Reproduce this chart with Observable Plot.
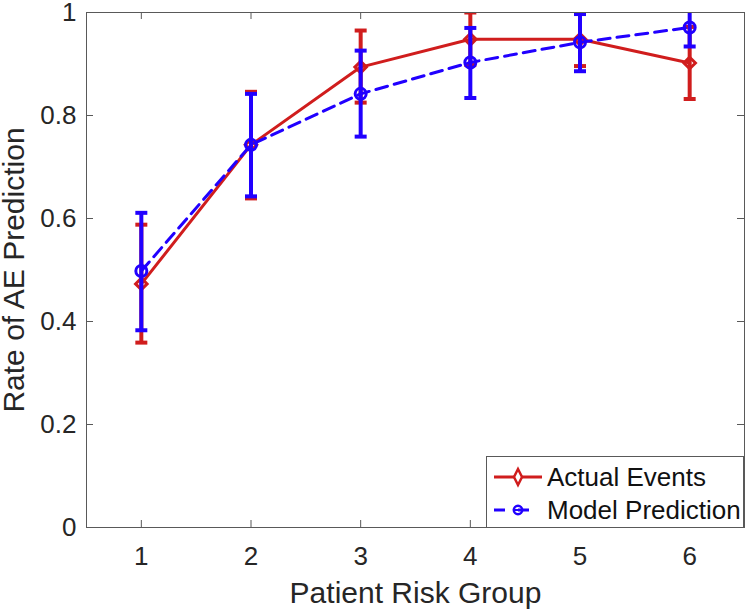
<!DOCTYPE html>
<html>
<head>
<meta charset="utf-8">
<script src="https://cdn.jsdelivr.net/npm/d3@7"></script>
<script src="https://cdn.jsdelivr.net/npm/@observablehq/plot@0.6"></script>
<style>
  body { margin: 0; background: #fff; }
  #wrap { position: relative; width: 747px; height: 613px; font-family: "Liberation Sans", Arial, sans-serif; }
  #legend { position: absolute; left: 486px; top: 456px; }
</style>
</head>
<body>
<div id="wrap"></div>
<script>
// ---- data ----
const groups = [1, 2, 3, 4, 5, 6];
const actual     = [0.473, 0.743, 0.894, 0.948, 0.948, 0.902];
const actualLow  = [0.359, 0.639, 0.825, 0.898, 0.896, 0.832];
const actualHigh = [0.588, 0.846, 0.965, 1.000, 1.000, 0.972];
const model      = [0.498, 0.743, 0.842, 0.903, 0.942, 0.971];
const modelLow   = [0.383, 0.643, 0.759, 0.834, 0.886, 0.934];
const modelHigh  = [0.611, 0.842, 0.926, 0.970, 0.997, 1.010];
const xTicks = [1, 2, 3, 4, 5, 6];
const yTicks = [0, 0.2, 0.4, 0.6, 0.8, 1];
const xLabel = "Patient Risk Group";
const yLabel = "Rate of AE Prediction";
const seriesNames = ["Actual Events", "Model Prediction"];

const RED = "#d01d1d";
const BLUE = "#2100ff";
const AXC = "#262626";
const FRAME = "#595959";

const W = 747, H = 613;
const mTop = 12, mRight = 3, mBottom = 86, mLeft = 86;
const innerW = W - mLeft - mRight, innerH = H - mTop - mBottom;

const act = groups.map((g, i) => ({g, v: actual[i], lo: actualLow[i], hi: actualHigh[i]}));
const mod = groups.map((g, i) => ({g, v: model[i], lo: modelLow[i], hi: modelHigh[i]}));

const cap = { draw(ctx, size) { const w = Math.sqrt(size / Math.PI); ctx.moveTo(-w, 0); ctx.lineTo(w, 0); } };

function series(data, color, symbol, r, dash) {
  return [
    Plot.line(data, {x: "g", y: "v", stroke: color, strokeWidth: 3, strokeDasharray: dash, clip: true}),
    Plot.ruleX(data, {x: "g", y1: "lo", y2: "hi", stroke: color, strokeWidth: 4, clip: true}),
    Plot.dot(data, {x: "g", y: "lo", symbol: cap, r: 6, stroke: color, fill: "none", strokeWidth: 4, clip: true}),
    Plot.dot(data, {x: "g", y: "hi", symbol: cap, r: 6, stroke: color, fill: "none", strokeWidth: 4, clip: true}),
    Plot.dot(data, {x: "g", y: "v", symbol, r, stroke: color, fill: "none", strokeWidth: 3, clip: true})
  ];
}

const chart = Plot.plot({
  width: W, height: H,
  marginTop: mTop, marginRight: mRight, marginBottom: mBottom, marginLeft: mLeft,
  style: {fontFamily: '"Liberation Sans", Arial, sans-serif', color: AXC, background: "#fff"},
  x: {domain: [0.5, 6.5]},
  y: {domain: [0, 1]},
  marks: [
    // tick marks (inward, on all four sides)
    Plot.tickX(xTicks, {x: d => d, insetTop: innerH - 7, stroke: FRAME}),
    Plot.tickX(xTicks, {x: d => d, insetBottom: innerH - 7, stroke: FRAME}),
    Plot.tickY(yTicks, {y: d => d, insetRight: innerW - 7, stroke: FRAME}),
    Plot.tickY(yTicks, {y: d => d, insetLeft: innerW - 7, stroke: FRAME}),
    Plot.axisX(xTicks, {tickSize: 0, tickPadding: 19, fontSize: 26, label: null, tickFormat: d => String(d)}),
    Plot.axisY(yTicks, {tickSize: 0, tickPadding: 10, fontSize: 26, label: null, tickFormat: d => String(d)}),
    Plot.text([xLabel], {frameAnchor: "bottom", textAnchor: "middle", lineAnchor: "middle", dy: 66, fontSize: 30, fill: AXC}),
    Plot.text([yLabel], {frameAnchor: "left", textAnchor: "middle", lineAnchor: "middle", dx: -72, rotate: -90, fontSize: 30, fill: AXC}),
    ...series(act, RED, "diamond2", 5.2, null),
    ...series(mod, BLUE, "circle", 5.5, "12,7"),
    Plot.frame({stroke: FRAME, strokeWidth: 1})
  ]
});
document.getElementById("wrap").appendChild(chart);

// ---- legend (inside the axes, bottom-right) ----
const lw = 258, lh = 72;
const legend = d3.select("#wrap").append("svg").attr("id", "legend")
  .attr("width", lw).attr("height", lh);
legend.append("rect").attr("x", 0.5).attr("y", 0.5).attr("width", lw - 1).attr("height", lh - 1)
  .attr("fill", "#fff").attr("stroke", FRAME);
const rows = [21, 54];
// row 1: red solid line with diamond
legend.append("line").attr("x1", 8).attr("x2", 56).attr("y1", rows[0]).attr("y2", rows[0])
  .attr("stroke", RED).attr("stroke-width", 3);
legend.append("path").attr("d", `M32,${rows[0]-8}L36,${rows[0]}L32,${rows[0]+8}L28,${rows[0]}Z`)
  .attr("fill", "#fff").attr("stroke", RED).attr("stroke-width", 2.5);
// row 2: blue dashed line with circle
legend.append("line").attr("x1", 8).attr("x2", 56).attr("y1", rows[1]).attr("y2", rows[1])
  .attr("stroke", BLUE).attr("stroke-width", 3).attr("stroke-dasharray", "11,13");
legend.append("circle").attr("cx", 32).attr("cy", rows[1]).attr("r", 4.2)
  .attr("fill", "none").attr("stroke", BLUE).attr("stroke-width", 2.5);
legend.append("line").attr("x1", 28).attr("x2", 36).attr("y1", rows[1]).attr("y2", rows[1])
  .attr("stroke", BLUE).attr("stroke-width", 2);
seriesNames.forEach((s, i) => {
  legend.append("text").attr("x", 61).attr("y", rows[i]).attr("dy", "0.35em")
    .attr("font-family", '"Liberation Sans", Arial, sans-serif').attr("font-size", 26)
    .attr("fill", "#111").text(s);
});
</script>
</body>
</html>
